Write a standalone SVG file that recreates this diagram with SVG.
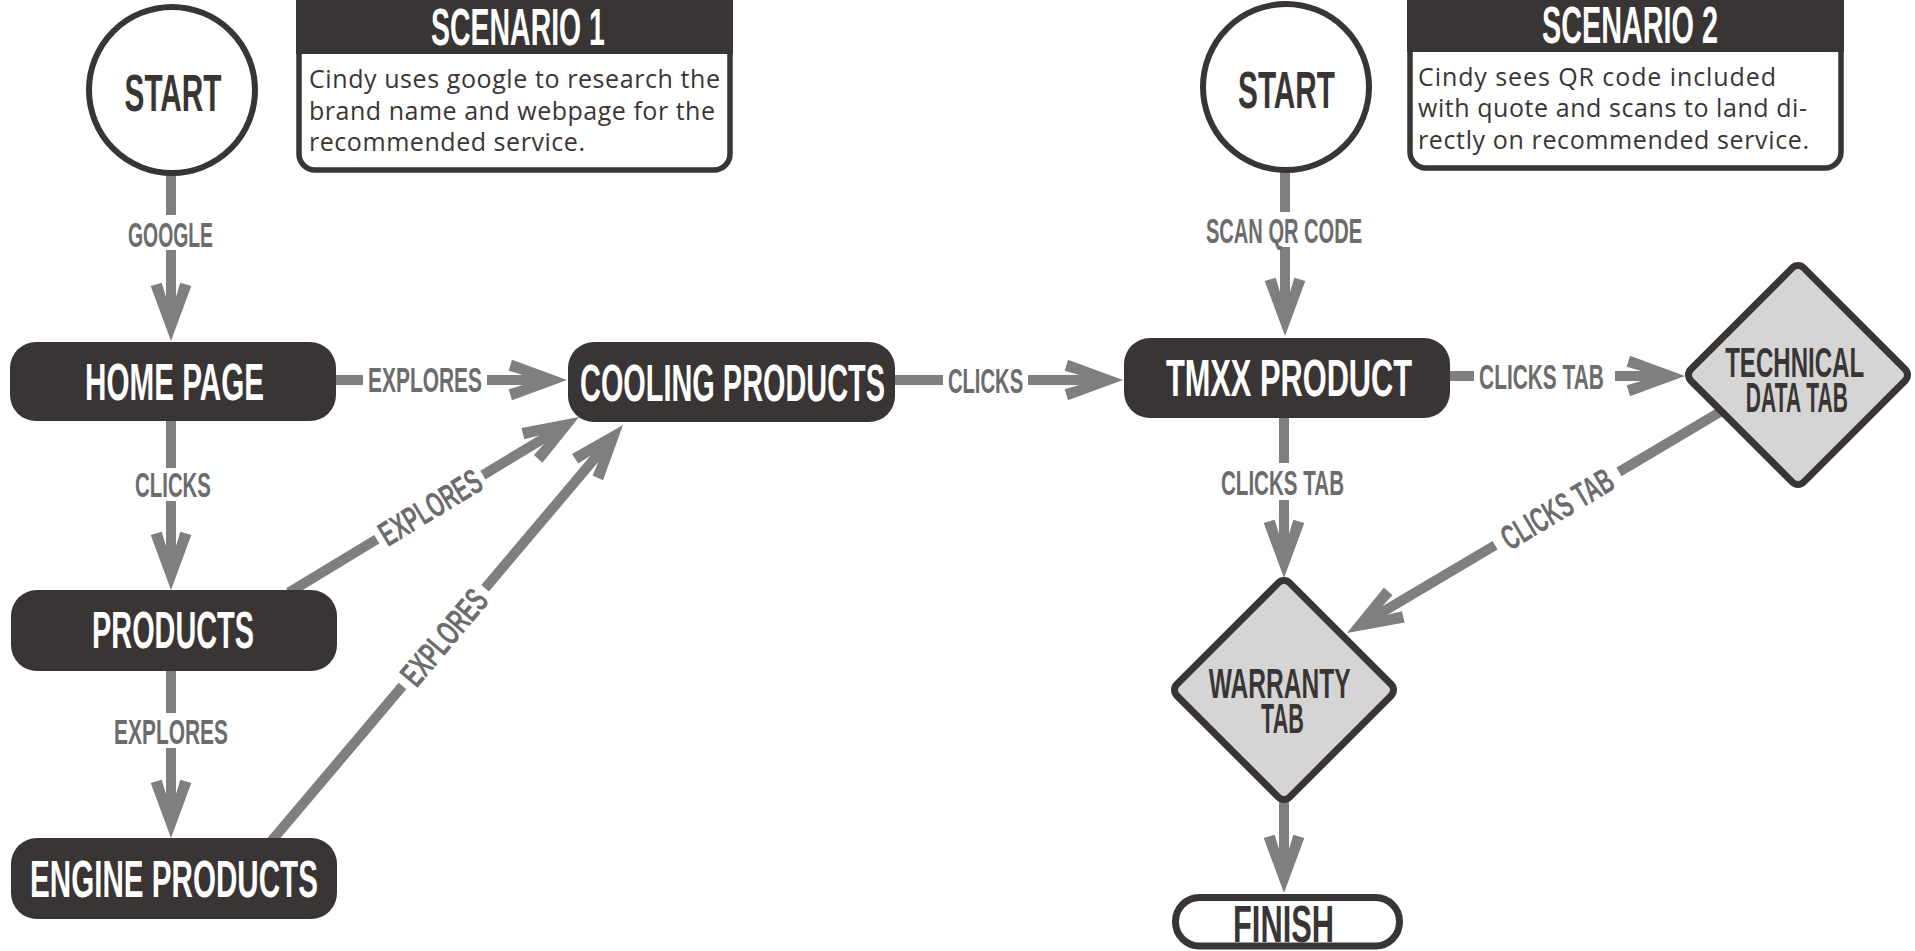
<svg xmlns="http://www.w3.org/2000/svg" width="1915" height="951" viewBox="0 0 1915 951">
  <defs>
    <style>
      .ln { stroke: #7f7f80; stroke-width: 10; fill: none; }
      .ar { marker-end: url(#ah); }
      .cond { font-family: "Liberation Sans", Arial, sans-serif; font-weight: 700; text-anchor: middle; }
      .lbl { font-size: 35px; fill: #6c6c6e; }
      .wt { font-size: 52px; fill: #ffffff; }
      .dk { font-size: 52px; fill: #393534; }
      .dm { font-size: 42px; fill: #393534; }
      .ring { fill: #ffffff; stroke: #393534; stroke-width: 6; }
      .diam { fill: #d5d5d5; stroke: #393534; stroke-width: 7; }
      .card { fill: #ffffff; stroke: #393534; stroke-width: 5.5; }
      .box { fill: #393534; }
      .body { font-family: "Open Sans", "Noto Sans", sans-serif; font-weight: 400; font-size: 25px; fill: #393534; }
    </style>
    <marker id="ah" viewBox="0 -21 62 42" refX="20" refY="0" markerWidth="62" markerHeight="42" markerUnits="userSpaceOnUse" orient="auto">
      <path d="M60,0 L5,-20.3 L1.7,-9.3 L16,-5 L16,5 L1.7,9.3 L5,20.3 Z" fill="#7f7f80"/>
    </marker>
  </defs>

  <rect width="1915" height="951" fill="#ffffff"/>

  <!-- connectors, drawn beneath the nodes; condensed labels use scale(0.57,1) -->
  <g id="connectors">
    <!-- start 1 -> home page -->
    <line class="ln" x1="171" y1="170" x2="171" y2="215"/>
    <line class="ln ar" x1="171" y1="250" x2="171" y2="301"/>
    <text class="cond lbl" transform="translate(170.5 247) scale(0.57 1)" textLength="149" lengthAdjust="spacingAndGlyphs">GOOGLE</text>

    <!-- home page -> cooling products -->
    <line class="ln" x1="330" y1="380" x2="363" y2="380"/>
    <line class="ln ar" x1="487" y1="380" x2="527" y2="380"/>
    <text class="cond lbl" transform="translate(425 392) scale(0.57 1)" textLength="200" lengthAdjust="spacingAndGlyphs">EXPLORES</text>

    <!-- home page -> products -->
    <line class="ln" x1="171" y1="415" x2="171" y2="468"/>
    <line class="ln ar" x1="171" y1="501" x2="171" y2="550"/>
    <text class="cond lbl" transform="translate(173 497) scale(0.57 1)" textLength="133" lengthAdjust="spacingAndGlyphs">CLICKS</text>

    <!-- products -> engine products -->
    <line class="ln" x1="171" y1="665" x2="171" y2="713"/>
    <line class="ln ar" x1="171" y1="748" x2="171" y2="798"/>
    <text class="cond lbl" transform="translate(171 744) scale(0.57 1)" textLength="200" lengthAdjust="spacingAndGlyphs">EXPLORES</text>

    <!-- products -> cooling products -->
    <line class="ln" x1="288.7" y1="592.6" x2="376.8" y2="539.3"/>
    <line class="ln ar" x1="482.9" y1="475.1" x2="544.8" y2="437.7"/>
    <text class="cond lbl" transform="rotate(-31.17 430 507.1) translate(430 519.6) scale(0.57 1)" textLength="200" lengthAdjust="spacingAndGlyphs">EXPLORES</text>

    <!-- engine products -> cooling products -->
    <line class="ln" x1="270.8" y1="841.8" x2="402.5" y2="686"/>
    <line class="ln ar" x1="485.1" y1="588.2" x2="597.2" y2="455.6"/>
    <text class="cond lbl" transform="rotate(-49.8 443.8 637.1) translate(443.8 649.6) scale(0.57 1)" textLength="200" lengthAdjust="spacingAndGlyphs">EXPLORES</text>

    <!-- cooling products -> tmxx product -->
    <line class="ln" x1="890" y1="380" x2="943" y2="380"/>
    <line class="ln ar" x1="1028" y1="380" x2="1083" y2="380"/>
    <text class="cond lbl" transform="translate(985.5 392.5) scale(0.57 1)" textLength="132" lengthAdjust="spacingAndGlyphs">CLICKS</text>

    <!-- start 2 -> tmxx product -->
    <line class="ln" x1="1285" y1="168" x2="1285" y2="212"/>
    <line class="ln ar" x1="1285" y1="247" x2="1285" y2="296"/>
    <text class="cond lbl" transform="translate(1284 243) scale(0.57 1)" textLength="274" lengthAdjust="spacingAndGlyphs">SCAN QR CODE</text>

    <!-- tmxx product -> technical data tab -->
    <line class="ln" x1="1445" y1="376" x2="1474" y2="376"/>
    <line class="ln ar" x1="1615" y1="376" x2="1645" y2="376"/>
    <text class="cond lbl" transform="translate(1541.5 388.5) scale(0.57 1)" textLength="219" lengthAdjust="spacingAndGlyphs">CLICKS TAB</text>

    <!-- tmxx product -> warranty tab -->
    <line class="ln" x1="1284" y1="412" x2="1284" y2="463"/>
    <line class="ln ar" x1="1284" y1="500" x2="1284" y2="538"/>
    <text class="cond lbl" transform="translate(1282.5 495) scale(0.57 1)" textLength="216" lengthAdjust="spacingAndGlyphs">CLICKS TAB</text>

    <!-- technical data tab -> warranty tab -->
    <line class="ln" x1="1724.3" y1="409.5" x2="1619" y2="471.9"/>
    <line class="ln ar" x1="1495.1" y1="545.3" x2="1381.4" y2="612.6"/>
    <text class="cond lbl" transform="rotate(-30.65 1557 508.6) translate(1557 521.1) scale(0.57 1)" textLength="219" lengthAdjust="spacingAndGlyphs">CLICKS TAB</text>

    <!-- warranty tab -> finish -->
    <line class="ln ar" x1="1284" y1="795" x2="1284" y2="853"/>
  </g>

  <!-- scenario cards -->
  <g id="scenario-1">
    <path class="card" d="M299,-10 V154 A16,16 0 0 0 315,170 H714 A16,16 0 0 0 730,154 V-10 Z"/>
    <rect class="box" x="296" y="-10" width="437" height="64"/>
    <text class="cond wt" font-size="49" transform="translate(518 45) scale(0.57 1)" textLength="305" lengthAdjust="spacingAndGlyphs">SCENARIO 1</text>
    <text class="body" x="309" y="88.3" textLength="411">Cindy uses google to research the</text>
    <text class="body" x="309" y="119.5" textLength="406">brand name and webpage for the</text>
    <text class="body" x="309" y="151" textLength="276">recommended service.</text>
  </g>

  <g id="scenario-2">
    <path class="card" d="M1410,-10 V152 A16,16 0 0 0 1426,168 H1825 A16,16 0 0 0 1841,152 V-10 Z"/>
    <rect class="box" x="1407" y="-10" width="437" height="62"/>
    <text class="cond wt" font-size="49" transform="translate(1630 43) scale(0.57 1)" textLength="309" lengthAdjust="spacingAndGlyphs">SCENARIO 2</text>
    <text class="body" x="1418" y="86" textLength="358">Cindy sees QR code included</text>
    <text class="body" x="1418" y="117.3" textLength="389">with quote and scans to land di-</text>
    <text class="body" x="1418" y="149" textLength="391">rectly on recommended service.</text>
  </g>

  <!-- scenario 1 flow -->
  <g id="start-1">
    <circle class="ring" cx="172" cy="90" r="83"/>
    <text class="cond dk" font-size="53" transform="translate(173 111) scale(0.57 1)" textLength="170" lengthAdjust="spacingAndGlyphs">START</text>
  </g>

  <g id="home-page">
    <rect class="box" x="10" y="342" width="326" height="79" rx="26"/>
    <text class="cond wt" transform="translate(174.5 400) scale(0.57 1)" textLength="314" lengthAdjust="spacingAndGlyphs">HOME PAGE</text>
  </g>

  <g id="products">
    <rect class="box" x="11" y="590" width="326" height="81" rx="26"/>
    <text class="cond wt" transform="translate(173 648) scale(0.57 1)" textLength="284" lengthAdjust="spacingAndGlyphs">PRODUCTS</text>
  </g>

  <g id="engine-products">
    <rect class="box" x="11" y="838" width="326" height="81" rx="26"/>
    <text class="cond wt" transform="translate(174 897) scale(0.57 1)" textLength="505" lengthAdjust="spacingAndGlyphs">ENGINE PRODUCTS</text>
  </g>

  <g id="cooling-products">
    <rect class="box" x="568" y="342" width="327" height="80" rx="26"/>
    <text class="cond wt" transform="translate(732.5 401) scale(0.57 1)" textLength="535" lengthAdjust="spacingAndGlyphs">COOLING PRODUCTS</text>
  </g>

  <!-- scenario 2 flow -->
  <g id="start-2">
    <circle class="ring" cx="1286" cy="87" r="83"/>
    <text class="cond dk" font-size="53" transform="translate(1286.5 108) scale(0.57 1)" textLength="170" lengthAdjust="spacingAndGlyphs">START</text>
  </g>

  <g id="tmxx-product">
    <rect class="box" x="1124" y="338" width="326" height="80" rx="26"/>
    <text class="cond wt" transform="translate(1289 396) scale(0.57 1)" textLength="432" lengthAdjust="spacingAndGlyphs">TMXX PRODUCT</text>
  </g>

  <g id="technical-data-tab">
    <rect class="diam" x="1718.25" y="295.25" width="159.5" height="159.5" rx="8" transform="rotate(45 1798 375)"/>
    <text class="cond dm" transform="translate(1798 377) scale(0.57 1)">
      <tspan x="0" y="0" textLength="244" lengthAdjust="spacingAndGlyphs">TECHNICAL</tspan>
      <tspan x="-2" y="35" textLength="179" lengthAdjust="spacingAndGlyphs">DATA TAB</tspan>
    </text>
  </g>

  <g id="warranty-tab">
    <rect class="diam" x="1204.25" y="610.25" width="159.5" height="159.5" rx="8" transform="rotate(45 1284 690)"/>
    <text class="cond dm" transform="translate(1283 698) scale(0.57 1)">
      <tspan x="0" y="0" textLength="249" lengthAdjust="spacingAndGlyphs">WARRANTY</tspan>
      <tspan x="-1" y="35" textLength="75" lengthAdjust="spacingAndGlyphs">TAB</tspan>
    </text>
  </g>

  <g id="finish">
    <rect x="1175.5" y="897.5" width="224" height="48.5" rx="24" fill="#ffffff" stroke="#393534" stroke-width="7"/>
    <text class="cond dk" transform="translate(1283.5 942) scale(0.57 1)" textLength="177" lengthAdjust="spacingAndGlyphs">FINISH</text>
  </g>
</svg>
